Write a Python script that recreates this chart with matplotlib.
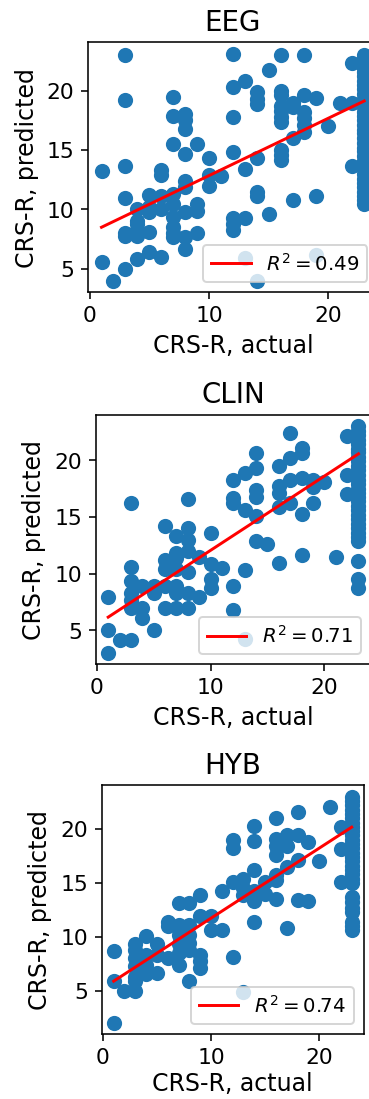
import numpy as np
import matplotlib
matplotlib.use("Agg")
import matplotlib.pyplot as plt

# predicted CRS-R, grouped by actual CRS-R score
eeg_pred = {
    1: [13.2, 5.6],
    2: [4.0],
    3: [23.0, 19.2, 13.7, 11.0, 8.0, 7.8, 5.0],
    4: [10.0, 9.0, 8.8, 8.3, 7.8, 5.8],
    5: [11.2, 10.2, 9.8, 8.1, 6.4],
    6: [13.3, 12.9, 11.1, 10.0, 6.0],
    7: [19.5, 17.9, 15.5, 11.3, 10.5, 9.4, 8.5, 8.0, 7.7],
    8: [18.0, 17.5, 16.8, 14.7, 12.4, 11.9, 9.8, 7.7, 6.7],
    9: [15.5, 10.5, 9.9, 8.0],
    10: [14.3, 12.9, 12.0],
    11: [12.8],
    12: [23.1, 20.3, 17.8, 14.8, 9.3, 8.8, 8.3],
    13: [20.8, 13.4, 9.3, 5.9],
    14: [19.9, 19.3, 18.9, 14.3, 11.5, 11.1, 4.0],
    15: [21.7, 9.6],
    16: [23.0, 20.0, 19.6, 18.7, 18.3, 17.8, 17.4, 15.0, 14.6, 14.2],
    17: [19.0, 18.6, 16.0, 10.8],
    18: [23.0, 19.6, 18.2, 17.7, 17.1, 16.5],
    19: [19.4, 11.1, 6.2],
    20: [17.0],
    21: [19.0],
    22: [22.3, 19.0, 13.7],
    23: [23.0, 22.7, 22.3, 21.9, 21.6, 21.2, 20.8, 20.5, 20.1, 19.7, 19.3, 19.0,
         18.6, 18.2, 17.9, 17.5, 17.1, 16.7, 16.4, 16.0, 15.6, 15.2, 14.9, 14.5,
         14.1, 13.7, 13.4, 13.0, 12.6, 12.2, 11.9, 11.5, 11.1, 10.8, 10.5],
}

clin_pred = {
    1: [7.9, 5.0, 3.0],
    2: [4.1],
    3: [16.2, 10.6, 9.3, 8.3, 7.7, 7.0, 4.1],
    4: [8.9, 7.0, 6.1],
    5: [8.9, 8.3, 5.0],
    6: [14.2, 11.2, 10.4, 8.9, 7.0],
    7: [13.3, 11.8, 11.4, 10.4, 8.9, 8.3, 7.0],
    8: [16.6, 14.0, 13.0, 12.0, 10.1, 8.3, 7.0],
    9: [11.5, 7.9],
    10: [13.6, 10.8, 9.5, 8.7],
    11: [10.5],
    12: [18.3, 16.7, 16.2, 8.9, 6.8],
    13: [18.9, 15.6, 10.3, 4.2],
    14: [20.6, 19.3, 17.4, 16.8, 15.1, 12.9],
    15: [12.6],
    16: [19.5, 17.7, 17.1, 15.9, 10.9],
    17: [22.4, 20.2, 18.3, 16.2],
    18: [21.1, 20.6, 18.4, 15.3, 11.6],
    19: [18.3, 17.6, 16.2],
    20: [18.1],
    21: [11.5],
    22: [22.1, 18.7, 17.0],
    23: [23.0, 22.6, 22.2, 21.8, 21.4, 21.0, 20.7, 20.3, 19.9, 19.5, 19.1, 18.7,
         18.3, 17.9, 17.5, 17.1, 16.8, 16.4, 16.0, 15.6, 15.2, 14.8, 14.4, 14.0,
         13.6, 13.2, 12.9, 11.1, 9.5, 8.7],
}

hyb_pred = {
    1: [8.7, 5.9, 2.0],
    2: [5.0],
    3: [9.3, 8.8, 8.0, 7.3, 6.3, 5.9, 5.0],
    4: [10.1, 8.3, 7.4, 6.5],
    5: [9.3, 8.3, 6.6],
    6: [11.4, 11.0, 8.0],
    7: [13.1, 11.1, 10.2, 9.3, 8.5, 7.4],
    8: [13.1, 11.1, 10.2, 9.4, 8.8, 5.9],
    9: [13.9, 11.9, 8.3, 7.7, 7.1],
    10: [11.9, 10.6],
    11: [14.2, 10.6],
    12: [19.0, 18.2, 15.1, 8.1],
    13: [15.4, 14.5, 13.9, 4.9],
    14: [20.3, 18.9, 16.2, 14.2, 13.3, 11.4],
    15: [15.1, 14.0],
    16: [21.0, 19.1, 18.4, 17.6, 15.7, 15.3, 13.5],
    17: [19.4, 18.4, 16.5, 10.8],
    18: [21.6, 19.4, 17.1, 13.4],
    19: [18.8, 13.3],
    20: [17.0],
    21: [22.0],
    22: [20.2, 18.1, 15.1],
    23: [23.0, 22.6, 22.2, 21.8, 21.4, 21.0, 20.6, 20.2, 19.8, 19.4, 19.0, 18.6,
         18.2, 17.8, 17.4, 17.0, 16.6, 16.2, 15.8, 15.4, 15.0, 13.7, 13.2, 12.7,
         12.3, 11.4, 11.0, 10.6],
}

titles = ["EEG", "CLIN", "HYB"]
r2 = [0.49, 0.71, 0.74]
# regression fit (slope, intercept)
fits = [(0.483, 8.02), (0.655, 5.5), (0.65, 5.22)]

# axes rectangles (left, bottom, width, height) in figure fraction
rects = [
    [0.2393, 0.7340, 0.7824, 0.2271],
    [0.2591, 0.3955, 0.7455, 0.2268],
    [0.2756, 0.0590, 0.7089, 0.2263],
]

dpi = 142
fig = plt.figure(figsize=(369.3 / dpi, 1099.3 / dpi), dpi=dpi)

for i, (pred, title, r, (a, b), rect) in enumerate(zip([eeg_pred, clin_pred, hyb_pred], titles, r2, fits, rects)):
    x = np.concatenate([[k] * len(v) for k, v in pred.items()])
    y = np.concatenate([v for v in pred.values()])

    ax = fig.add_axes(rect)
    ax.scatter(x, y, s=45, color="#1f77b4")
    xs = np.array([x.min(), x.max()])
    ax.plot(xs, a * xs + b, color="red", linewidth=1.5, label=r"$R^2 = %.2f$" % r)

    ax.set_xticks([0, 10, 20])
    ax.set_yticks([5, 10, 15, 20])
    ax.tick_params(labelsize=11)
    ax.set_xlabel("CRS-R, actual", fontsize=12, labelpad=2 if i == 2 else 4)
    ax.set_ylabel("CRS-R, predicted", fontsize=12)
    ax.set_title(title, fontsize=14)
    ax.legend(loc="lower right", fontsize=10)

fig.savefig("out.png", dpi=dpi)
